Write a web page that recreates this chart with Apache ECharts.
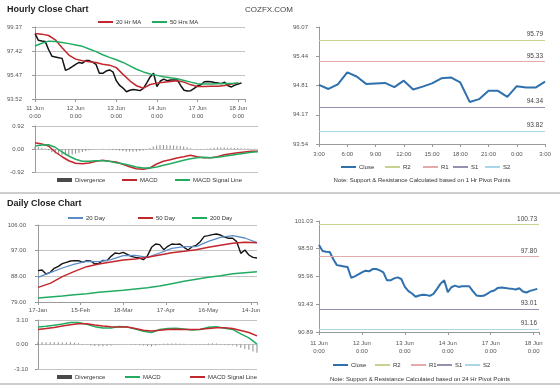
<!DOCTYPE html>
<html><head><meta charset="utf-8">
<script src="https://cdn.jsdelivr.net/npm/echarts@6/dist/echarts.min.js"></script>
<style>html,body{margin:0;padding:0;background:#fff}#c{width:560px;height:386px}</style>
</head><body><div id="c"></div><script>
// ---------- DATA ----------
const hourDays = ['11 Jun','12 Jun','13 Jun','14 Jun','17 Jun','18 Jun'];
// hourly close, every 2 hours from 11 Jun 0:00
const hourlyClose = [98.83,98.29,98.23,98.20,97.54,97.00,96.94,96.88,96.82,95.85,95.97,96.15,96.34,96.49,96.43,96.64,96.64,96.52,96.34,95.61,95.61,95.79,95.88,95.73,95.01,94.62,94.41,94.11,94.23,94.29,94.26,94.20,94.38,94.83,95.31,95.61,94.53,94.98,95.13,95.01,95.07,95.07,95.07,94.62,94.23,94.17,94.20,94.38,94.59,94.68,94.92,94.95,94.92,94.86,94.83,94.77,94.89,94.59,94.50,94.65,94.74,94.83];
// moving averages, every 4 hours
const ma20h = [98.85,98.79,98.68,98.33,97.69,97.09,96.76,96.62,96.54,96.49,96.35,96.27,96.07,95.52,95.00,94.59,94.40,94.70,94.81,94.89,94.95,95.00,94.89,94.67,94.53,94.53,94.56,94.56,94.62,94.73,94.81];
const ma50h = [97.83,98.05,98.22,98.19,98.11,98.02,97.91,97.80,97.58,97.37,97.12,96.90,96.71,96.49,96.21,95.94,95.72,95.55,95.44,95.33,95.25,95.17,95.03,94.89,94.76,94.73,94.73,94.76,94.78,94.78,94.81];
// hourly MACD, every 4 hours; divergence every 2 hours
const macdH = [0.25,0.20,0.12,-0.12,-0.31,-0.47,-0.57,-0.59,-0.56,-0.49,-0.45,-0.49,-0.52,-0.61,-0.71,-0.79,-0.81,-0.76,-0.60,-0.49,-0.43,-0.36,-0.31,-0.25,-0.31,-0.35,-0.35,-0.31,-0.23,-0.19,-0.15,-0.12,-0.09,-0.09];
const signalH = [0.12,0.16,0.17,0.07,-0.12,-0.28,-0.41,-0.49,-0.49,-0.47,-0.47,-0.49,-0.55,-0.59,-0.65,-0.72,-0.76,-0.76,-0.72,-0.65,-0.59,-0.52,-0.45,-0.39,-0.35,-0.33,-0.35,-0.33,-0.29,-0.25,-0.21,-0.17,-0.13,-0.11];
const divH = [0.10,0.08,0.05,0.02,-0.05,-0.12,-0.18,-0.22,-0.25,-0.25,-0.24,-0.22,-0.18,-0.15,-0.12,-0.08,-0.05,-0.02,-0.01,0.00,0.01,0.00,-0.02,-0.03,-0.04,-0.06,-0.08,-0.10,-0.10,-0.11,-0.10,-0.08,-0.06,-0.02,0.04,0.10,0.14,0.16,0.16,0.15,0.15,0.14,0.13,0.12,0.10,0.07,0.03,0.00,-0.02,-0.02,-0.01,0.01,0.03,0.05,0.06,0.06,0.06,0.05,0.05,0.04,0.04,0.03,0.02,0.02,0.01,0.01,0.01];
// last 24 hours close (3:00 .. 3:00)
const lastDayLabels = ['3:00','6:00','9:00','12:00','15:00','18:00','21:00','0:00','3:00'];
const lastDayClose = [94.82,94.73,94.83,95.09,95.00,94.84,94.85,94.86,94.77,94.91,94.72,94.78,94.85,94.96,94.98,94.87,94.45,94.51,94.69,94.69,94.56,94.79,94.76,94.76,94.89];
const pivot1h = {R2:95.79, R1:95.33, S1:94.34, S2:93.82};
const pivot24h = {R2:100.73, R1:97.80, S1:93.01, S2:91.16};
// daily
const dayLabels = ['17-Jan','15-Feb','18-Mar','17-Apr','16-May','14-Jun'];
const dailyClose = [89.99,90.22,88.82,89.40,90.80,91.51,92.44,92.91,93.38,93.49,93.49,92.91,93.49,93.38,92.32,92.56,93.61,93.49,95.01,96.18,95.95,96.42,95.71,95.01,94.66,94.43,93.84,95.25,98.17,99.34,99.10,97.35,98.52,99.34,99.22,99.34,98.17,97.23,98.40,98.87,100.16,102.03,102.26,102.61,102.85,102.49,101.79,101.33,101.33,100.16,96.06,97.23,95.48,94.66,94.43];
const ma20d = [87.65,89.28,90.92,92.32,93.26,93.14,93.84,95.25,95.36,94.66,96.18,97.82,98.40,98.40,100.27,101.68,102.26,101.44,99.81];
const ma50d = [84.14,85.54,87.88,89.75,91.39,92.32,93.03,93.73,94.08,94.66,95.48,96.30,96.77,97.35,98.17,98.87,99.57,99.92,99.81];
const ma200d = [80.40,80.75,81.10,81.57,81.92,82.39,82.74,83.09,83.56,84.02,84.61,85.43,86.24,86.95,87.65,88.23,88.93,89.28,89.64];
const macdD = [2.22,2.30,2.45,2.60,2.77,2.79,2.56,2.26,2.10,2.10,2.28,2.20,1.97,1.68,1.51,1.89,2.01,2.07,1.97,1.82,1.89,2.18,2.26,2.05,1.91,1.34,0.84,0.04];
const signalD = [1.89,2.01,2.16,2.35,2.49,2.62,2.64,2.47,2.33,2.26,2.22,2.20,2.03,1.80,1.72,1.80,1.89,1.93,1.89,1.89,1.93,2.01,2.12,2.12,2.03,1.78,1.51,1.09];
const divD = [0.30,0.30,0.28,0.28,0.28,0.27,0.25,0.26,0.27,0.22,0.15,0.05,-0.06,-0.14,-0.20,-0.22,-0.22,-0.19,-0.14,-0.04,0.04,0.03,0.00,-0.04,-0.07,-0.10,-0.14,-0.20,-0.24,-0.14,0.06,0.10,0.12,0.13,0.13,0.11,0.08,0.00,-0.06,-0.06,-0.03,0.06,0.14,0.16,0.14,0.04,-0.06,-0.10,-0.13,-0.25,-0.42,-0.56,-0.68,-0.88,-1.05];
// axis tick labels
const tkHourPrice = ['93.52','95.47','97.42','99.37'];
const tkHourMacd = ['-0.92','0.00','0.92'];
const tkLastDay = ['93.54','94.17','94.81','95.44','96.07'];
const tkDailyPrice = ['79.00','88.00','97.00','106.00'];
const tkDailyMacd = ['-3.10','0.00','3.10'];
const tk24h = ['90.89','93.43','95.96','98.50','101.03'];

// ---------- CHART ----------
const F = '"Liberation Sans", Arial, sans-serif';
const C = {black:'#141414', red:'#c1272d', green:'#22ac62', blue:'#5b8cc8', close:'#2f70ad',
  R2:'#c9d28e', R1:'#e2aaaa', S1:'#958fb0', S2:'#a9d6e8', bar:'#8c8c8c', axis:'#9a9a9a', grid:'#c4c4c4'};
function fmt(labels, min, step){
  return v => { const k = Math.round((v - min) / step);
    return (Math.abs(min + k*step - v) < step*0.02 && labels[k] !== undefined) ? labels[k] : ''; };
}
const lab = (extra) => Object.assign({fontSize:6, color:'#555', fontFamily:F}, extra);
function yAx(gi, min, max, step, labels, split, margin){
  return {type:'value', gridIndex:gi, min:min, max:max, interval:step, scale:true,
    axisLine:{show:true, lineStyle:{color:C.axis, width:1}},
    axisTick:{show:true, length:3, lineStyle:{color:C.axis}},
    splitLine:{show:split, lineStyle:{color:C.grid, width:1}},
    axisLabel:lab({formatter:fmt(labels, min, step), margin:margin})};
}
function xAx(gi, min, max, step, labels, margin, show){
  return {type:'value', gridIndex:gi, min:min, max:max, interval:step,
    axisLine:{show:show, onZero:false, lineStyle:{color:C.axis}},
    axisTick:{show:show, length:3, lineStyle:{color:C.axis}},
    splitLine:{show:false},
    axisLabel:lab({show:show, formatter:fmt(labels, min, step), margin:margin, lineHeight:8})};
}
const pts = (arr, step) => arr.map((v,i) => [i*step, v]);
function line(name, xi, data, color, width){
  return {name:name, type:'line', xAxisIndex:xi, yAxisIndex:xi, data:data, showSymbol:false, symbol:'none',
    itemStyle:{color:color}, lineStyle:{color:color, width:width}, silent:true};
}
function pivot(name, xi, value, color){
  return {name:name, type:'line', xAxisIndex:xi, yAxisIndex:xi, data:[], symbol:'none',
    itemStyle:{color:color}, lineStyle:{color:color},
    markLine:{silent:true, symbol:['none','none'], animation:false,
      lineStyle:{color:color, width:1.2, type:'solid'},
      label:{show:true, position:'insideEndTop', distance:2, fontSize:6.5, color:'#444', fontFamily:F,
        formatter: p => value.toFixed(2)},
      data:[{yAxis:value}]}};
}
function bars(name, xi, data){
  return {name:name, type:'bar', xAxisIndex:xi, yAxisIndex:xi, data:data, barWidth:1,
    itemStyle:{color:C.bar}, silent:true};
}
function leg(name, left, top, h, color){
  const item = {name:name};
  if (color) item.itemStyle = {color:color};
  return {data:[item], left:left, top:top, padding:0, itemGap:0, itemWidth:15, itemHeight:h,
    icon:'rect', selectedMode:false, formatter: n => n.split('@')[0],
    textStyle:{fontSize:6, color:'#333', fontFamily:F, padding:[0,0,0,-2]}};
}

const option = {
  animation:false,
  backgroundColor:'#fff',
  title:[
    {text:'Hourly Close Chart', left:7, top:5, padding:0, textStyle:{fontSize:9, fontWeight:'bold', color:'#222', fontFamily:F}},
    {text:'COZFX.COM', left:245, top:6, padding:0, textStyle:{fontSize:8, fontWeight:'normal', color:'#444', fontFamily:F}},
    {text:'Daily Close Chart', left:7, top:199, padding:0, textStyle:{fontSize:9, fontWeight:'bold', color:'#222', fontFamily:F}}
  ],
  grid:[
    {left:35, top:27, width:210, height:72, outerBoundsMode:'none'},
    {left:35, top:126, width:223, height:46, outerBoundsMode:'none'},
    {left:319, top:27, width:226, height:117, outerBoundsMode:'none'},
    {left:38, top:225, width:219, height:77, outerBoundsMode:'none'},
    {left:38, top:320, width:219, height:49, outerBoundsMode:'none'},
    {left:319, top:221, width:220, height:111, outerBoundsMode:'none'}
  ],
  xAxis:[
    xAx(0, 0, 124, 24, hourDays.map(d => d + '\n0:00'), 5, true),
    xAx(1, 0, 132, 24, [], 5, false),
    xAx(2, 0, 24, 3, lastDayLabels, 6, true),
    xAx(3, 0, 108, 21, dayLabels, 4, true),
    xAx(4, 0, 108, 21, [], 4, false),
    xAx(5, 0, 123, 24, hourDays.map(d => d + '\n0:00'), 7, true)
  ],
  yAxis:[
    yAx(0, 93.52, 99.37, 1.95, tkHourPrice, true, 13),
    yAx(1, -0.92, 0.92, 0.92, tkHourMacd, true, 11),
    yAx(2, 93.54, 96.07, 0.6325, tkLastDay, false, 11),
    yAx(3, 79, 106, 9, tkDailyPrice, true, 12),
    yAx(4, -3.10, 3.10, 3.10, tkDailyMacd, true, 10),
    yAx(5, 90.89, 101.03, 2.535, tk24h, false, 6)
  ],
  legend:[
    leg('20 Hr MA', 98, 19, 2),
    leg('50 Hrs MA', 152, 19, 2),
    leg('Divergence@h', 57, 177, 4, '#4a4a4a'),
    leg('MACD@h', 122, 177, 2),
    leg('MACD Signal Line@h', 175, 177, 2),
    leg('Close@t', 341, 164, 2),
    leg('R2@t', 385, 164, 2),
    leg('R1@t', 423, 164, 2),
    leg('S1@t', 453, 164, 2),
    leg('S2@t', 485, 164, 2),
    leg('20 Day', 68, 215, 2),
    leg('50 Day', 138, 215, 2),
    leg('200 Day', 192, 215, 2),
    leg('Divergence@d', 57, 374, 4, '#4a4a4a'),
    leg('MACD@d', 125, 374, 2),
    leg('MACD Signal Line@d', 190, 374, 2),
    leg('Close@b', 333, 362, 2),
    leg('R2@b', 375, 362, 2),
    leg('R1@b', 411, 362, 2),
    leg('S1@b', 437, 362, 2),
    leg('S2@b', 465, 362, 2)
  ],
  series:[
    line('HourlyClose', 0, pts(hourlyClose, 2), C.black, 1.5),
    line('20 Hr MA', 0, pts(ma20h, 4), C.red, 1.5),
    line('50 Hrs MA', 0, pts(ma50h, 4), C.green, 1.5),
    bars('Divergence@h', 1, pts(divH, 2)),
    line('MACD@h', 1, pts(macdH, 4), C.red, 1.5),
    line('MACD Signal Line@h', 1, pts(signalH, 4), C.green, 1.5),
    line('Close@t', 2, pts(lastDayClose, 1), C.close, 2),
    pivot('R2@t', 2, pivot1h.R2, C.R2),
    pivot('R1@t', 2, pivot1h.R1, C.R1),
    pivot('S1@t', 2, pivot1h.S1, C.S1),
    pivot('S2@t', 2, pivot1h.S2, C.S2),
    line('DailyClose', 3, pts(dailyClose, 2), C.black, 1.4),
    line('20 Day', 3, pts(ma20d, 6), C.blue, 1.3),
    line('50 Day', 3, pts(ma50d, 6), C.red, 1.5),
    line('200 Day', 3, pts(ma200d, 6), C.green, 1.5),
    bars('Divergence@d', 4, pts(divD, 2)),
    line('MACD@d', 4, pts(macdD, 4), C.green, 1.5),
    line('MACD Signal Line@d', 4, pts(signalD, 4), C.red, 1.5),
    line('Close@b', 5, pts(hourlyClose, 2), C.close, 2),
    pivot('R2@b', 5, pivot24h.R2, C.R2),
    pivot('R1@b', 5, pivot24h.R1, C.R1),
    pivot('S1@b', 5, pivot24h.S1, C.S1),
    pivot('S2@b', 5, pivot24h.S2, C.S2)
  ],
  graphic:[
    {type:'line', shape:{x1:0, y1:193, x2:560, y2:193}, style:{stroke:'#bdbdbd', lineWidth:1.5}, silent:true},
    {type:'line', shape:{x1:0, y1:384, x2:560, y2:384}, style:{stroke:'#bdbdbd', lineWidth:1.5}, silent:true},
    {type:'text', x:422, y:180, silent:true, style:{text:'Note: Support & Resistance Calculated based on 1 Hr Pivot Points',
      fontSize:6, fill:'#333', fontFamily:F, align:'center', verticalAlign:'middle'}},
    {type:'text', x:420, y:379, silent:true, style:{text:'Note: Support & Resistance Calculated based on 24 Hr Pivot Points',
      fontSize:6, fill:'#333', fontFamily:F, align:'center', verticalAlign:'middle'}}
  ]
};
const chart = echarts.init(document.getElementById('c'), null, {renderer:'canvas'});
chart.setOption(option);
</script></body></html>
